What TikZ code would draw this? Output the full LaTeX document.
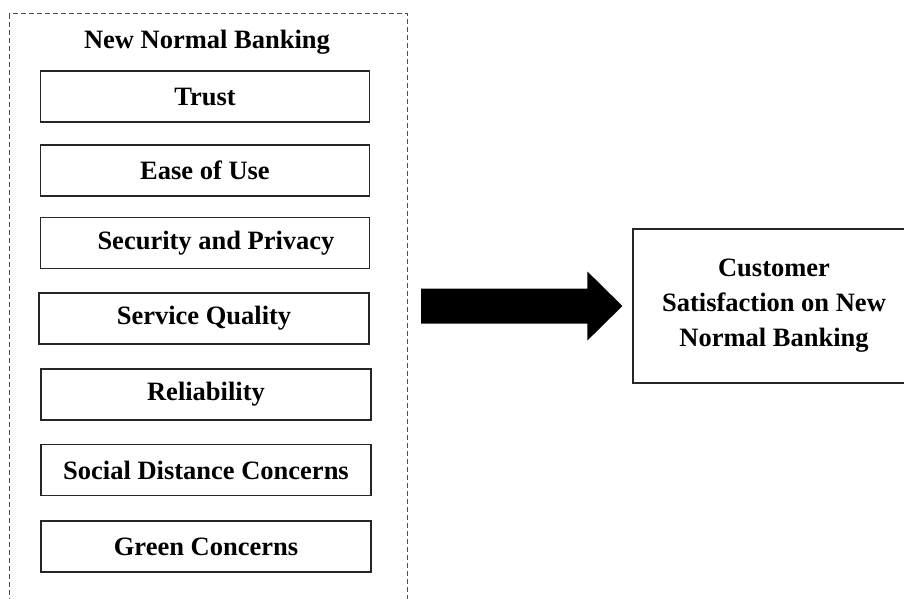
\documentclass[tikz,border=0pt]{standalone}
\usepackage{fontspec}
\setmainfont{Liberation Serif}
\usetikzlibrary{calc}
\begin{document}
\begin{tikzpicture}[x=1pt,y=1pt,
  frame/.style={draw=black!70, line width=1.1pt, dash pattern=on 5pt off 3pt,
    rectangle, anchor=north west, inner sep=0pt},
  factor/.style={draw=black!85, line width=1.2pt, rectangle, inner sep=0pt,
    minimum width=329, minimum height=51,
    font=\fontsize{26.5}{30}\selectfont\bfseries},
  outcome/.style={draw=black!85, line width=1.2pt, rectangle, inner sep=0pt,
    minimum width=282, minimum height=154, align=center,
    font=\fontsize{26.5}{35}\selectfont\bfseries},
  title/.style={anchor=base, inner sep=0pt, font=\fontsize{26.5}{30}\selectfont\bfseries},
  bigarrow/.style={fill=black}]
\clip (0,0) rectangle (904,-599);
\fill[white] (0,0) rectangle (904,-599);

% dashed frame around the factor group (open at the bottom of the page)
\node[frame, minimum width=398, minimum height=620] (frame) at (9,-13) {};
\node[title] (head) at (207,-49) {New Normal Banking};

% factor boxes
\node[factor] (trust)   at (205,-96.5)  {Trust};
\node[factor] (ease)    at (205,-170.5) {Ease of Use};
\node[factor] (secur)   at (205,-243)   {\hspace*{22pt}Security and Privacy};
\node[factor, minimum width=330] (servq) at (204,-318.5) {Service Quality};
\node[factor, minimum width=330] (relia) at (206,-394.5) {Reliability};
\node[factor, minimum width=330] (social) at (206,-470) {Social Distance Concerns};
\node[factor, minimum width=330] (green) at (206,-546.5) {Green Concerns};

% outcome box
\node[outcome] (cust) at (774,-306) {Customer\\Satisfaction on New\\Normal Banking};

% block arrow from the frame to the outcome
\coordinate (as) at ($(frame.east |- cust.west)+(13,0)$);
\coordinate (ae) at ($(cust.west)+(-10,0)$);
\fill[bigarrow] ($(as)+(0,17.5)$) -- ($(ae)+(-35,17.5)$) -- ($(ae)+(-35,34.5)$)
  -- (ae) -- ($(ae)+(-35,-34.5)$) -- ($(ae)+(-35,-17.5)$) -- ($(as)+(0,-17.5)$) -- cycle;
\end{tikzpicture}
\end{document}
